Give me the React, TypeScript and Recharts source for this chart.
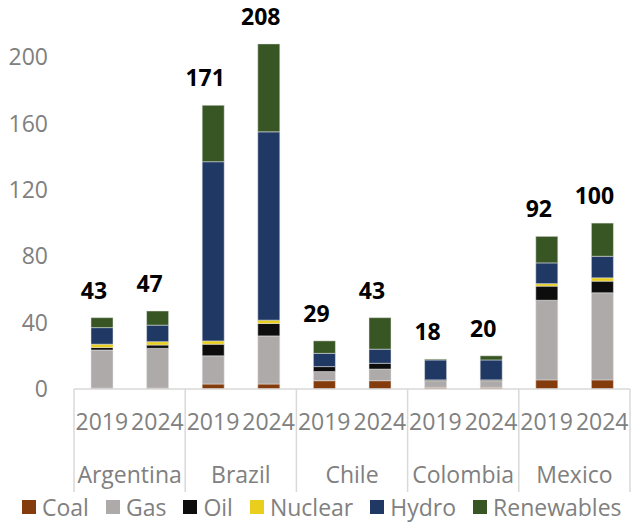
import { BarChart, Bar, XAxis, YAxis, Legend, LabelList } from "recharts";

const countries = ["Argentina", "Brazil", "Chile", "Colombia", "Mexico"];
const years = ["2019", "2024"];

// values per bar, order: country x year
const coal = [0.5, 0.5, 3, 3, 5, 5, 1, 1, 5.5, 5.5];
const gas = [23, 24, 17, 29, 5.5, 7, 4, 4, 48, 52.5];
const oil = [1.5, 2, 7, 7.5, 3, 3.5, 0.5, 0.5, 8.5, 7];
const nuclear = [2, 2, 2, 2, 0, 0, 0, 0, 1.5, 2];
const hydro = [10, 10, 108, 113.5, 8, 8.5, 12, 12, 12.5, 13];
const renewables = [6, 8.5, 34, 53, 7.5, 19, 0.5, 2.5, 16, 20];
const totals = [43, 47, 171, 208, 29, 43, 18, 20, 92, 100];

const yTicks = [0, 40, 80, 120, 160, 200];

const series = [
  { key: "Coal", color: "#843C0C" },
  { key: "Gas", color: "#AEAAAA" },
  { key: "Oil", color: "#0D0D0D" },
  { key: "Nuclear", color: "#E9CE1B" },
  { key: "Hydro", color: "#1F3864" },
  { key: "Renewables", color: "#375623" },
];

const data = countries.flatMap((country, ci) =>
  years.map((year, yi) => {
    const i = ci * years.length + yi;
    return {
      id: `${country}-${year}`,
      country,
      year,
      Coal: coal[i],
      Gas: gas[i],
      Oil: oil[i],
      Nuclear: nuclear[i],
      Hydro: hydro[i],
      Renewables: renewables[i],
      total: totals[i],
    };
  })
);

const FONT = "'Open Sans', sans-serif";
const GREY = "#808080";
const LINE = "#D9D9D9";
const BAND = 556 / countries.length;

const YearTick = (props: any) => {
  const { x, y, index } = props;
  const year = data[index]?.year ?? "";
  return (
    <text x={x} y={y + 33} dy="0.35em" textAnchor="middle" fill={GREY} fontFamily={FONT} fontSize={23}>
      {year}
    </text>
  );
};

const CountryTick = (props: any) => {
  const { x, y, payload, index } = props;
  const top = y - 50;
  const bottom = y + 53;
  return (
    <g>
      <line x1={x - BAND / 2} x2={x - BAND / 2} y1={top} y2={bottom} stroke={LINE} strokeWidth={1.5} />
      {index === countries.length - 1 && (
        <line x1={x + BAND / 2} x2={x + BAND / 2} y1={top} y2={bottom} stroke={LINE} strokeWidth={1.5} />
      )}
      <text x={x} y={y + 36} dy="0.35em" textAnchor="middle" fill={GREY} fontFamily={FONT} fontSize={23}>
        {payload.value}
      </text>
    </g>
  );
};

const TotalLabel = (props: any) => {
  const { x, y, width, value } = props;
  return (
    <text
      x={x + width / 2 - 8}
      y={y - 27}
      dy="0.35em"
      textAnchor="middle"
      fill="#000"
      fontFamily={FONT}
      fontWeight="bold"
      fontSize={23}
    >
      {value}
    </text>
  );
};

const LegendContent = () => (
  <div
    style={{
      height: 32,
      display: "flex",
      alignItems: "center",
      justifyContent: "flex-start",
      gap: 17,
      fontFamily: FONT,
      fontSize: 23,
      color: GREY,
      paddingLeft: 22,
      whiteSpace: "nowrap",
    }}
  >
    {series.map((s) => (
      <div key={s.key} style={{ display: "flex", alignItems: "center", gap: 6 }}>
        <span style={{ width: 14, height: 14, background: s.color, display: "inline-block" }} />
        <span style={{ lineHeight: "32px" }}>{s.key}</span>
      </div>
    ))}
  </div>
);

export default function App() {
  return (
    <div style={{ position: "absolute", left: 0, top: 0, width: 632, height: 523, background: "#fff" }}>
      <BarChart width={632} height={523} data={data} margin={{ top: 24, right: 2, bottom: 0, left: 0 }} barSize={22}>
        <XAxis
          xAxisId={0}
          dataKey="id"
          height={50}
          tickLine={false}
          tickSize={0}
          tickMargin={0}
          axisLine={{ stroke: LINE, strokeWidth: 1.5 }}
          tick={<YearTick />}
          interval={0}
        />
        <XAxis
          xAxisId={1}
          dataKey="country"
          allowDuplicatedCategory={false}
          height={52}
          tickLine={false}
          tickSize={0}
          tickMargin={0}
          axisLine={false}
          tick={<CountryTick />}
          interval={0}
        />
        <YAxis
          domain={[0, 220]}
          ticks={yTicks}
          width={74}
          axisLine={false}
          tickLine={false}
          tickSize={0}
          tickMargin={26}
          tick={{ fill: GREY, fontFamily: FONT, fontSize: 23 }}
        />
        <Legend verticalAlign="bottom" content={<LegendContent />} />
        {series.map((s, i) => (
          <Bar
            key={s.key}
            xAxisId={0}
            dataKey={s.key}
            stackId="a"
            fill={s.color}
            stroke="#E6E6E6"
            strokeWidth={0.5}
            isAnimationActive={false}
          >
            {i === series.length - 1 && <LabelList dataKey="total" content={<TotalLabel />} />}
          </Bar>
        ))}
      </BarChart>
    </div>
  );
}
